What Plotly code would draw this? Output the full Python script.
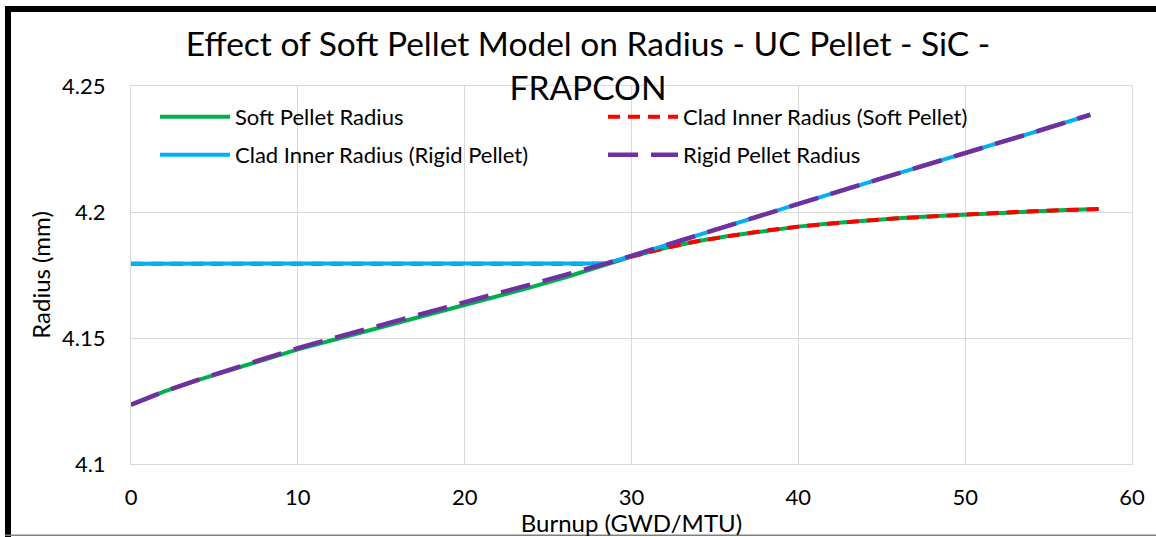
import plotly.graph_objects as go

# ---- data ----
soft_burnup = [0, 1, 2, 4, 6, 8, 10, 12, 14, 16, 18, 20, 22, 24, 26, 28, 28.5,
               30, 32, 34, 36, 38, 40, 42, 44, 46, 48, 50, 52, 54, 56, 58]
soft_pellet_radius = [4.1235, 4.1263, 4.1288, 4.1333, 4.1375, 4.1415, 4.1455, 4.1490,
                      4.1525, 4.1560, 4.1595, 4.1630, 4.1665, 4.1702, 4.1740, 4.1780, 4.1791,
                      4.1823, 4.1857, 4.1885, 4.1907, 4.1926, 4.1942, 4.1955, 4.1966,
                      4.1975, 4.1983, 4.1990, 4.1997, 4.2003, 4.2008, 4.2012]
clad_soft_burnup = [0, 5, 10, 15, 20, 25, 28.5,
                    30, 32, 34, 36, 38, 40, 42, 44, 46, 48, 50, 52, 54, 56, 58]
clad_soft_radius = [4.1795, 4.1795, 4.1795, 4.1795, 4.1795, 4.1795, 4.1795,
                    4.1823, 4.1857, 4.1885, 4.1907, 4.1926, 4.1942, 4.1955, 4.1966,
                    4.1975, 4.1983, 4.1990, 4.1997, 4.2003, 4.2008, 4.2012]

rigid_burnup = [0, 1, 2, 4, 6, 8, 10, 12, 14, 16, 18, 20, 22, 24, 26, 28, 28.5,
                30, 32, 34, 36, 38, 40, 42, 44, 46, 48, 50, 52, 54, 56, 57.5]
rigid_pellet_radius = [4.1235, 4.1263, 4.1288, 4.1334, 4.1377, 4.1418, 4.1460, 4.1497,
                       4.1534, 4.1570, 4.1606, 4.1642, 4.1678, 4.1713, 4.1748, 4.1784, 4.1796,
                       4.1826, 4.1868, 4.1909, 4.1950, 4.1991, 4.2032, 4.2073, 4.2114,
                       4.2154, 4.2194, 4.2234, 4.2274, 4.2314, 4.2354, 4.2386]
clad_rigid_burnup = [0, 5, 10, 15, 20, 25, 28.5,
                     30, 32, 34, 36, 38, 40, 42, 44, 46, 48, 50, 52, 54, 56, 57.5]
clad_rigid_radius = [4.1795, 4.1795, 4.1795, 4.1795, 4.1795, 4.1795, 4.1796,
                     4.1826, 4.1868, 4.1909, 4.1950, 4.1991, 4.2032, 4.2073, 4.2114,
                     4.2154, 4.2194, 4.2234, 4.2274, 4.2314, 4.2354, 4.2386]

x_ticks = [0, 10, 20, 30, 40, 50, 60]
y_ticks = [4.1, 4.15, 4.2, 4.25]
y_tick_text = ["4.1", "4.15", "4.2", "4.25"]

FONT = "Lato"

fig = go.Figure()
fig.add_trace(go.Scatter(x=soft_burnup, y=soft_pellet_radius, mode="lines",
                         name="Soft Pellet Radius", legend="legend",
                         line=dict(color="#00B050", width=4)))
fig.add_trace(go.Scatter(x=clad_soft_burnup, y=clad_soft_radius, mode="lines",
                         name="Clad Inner Radius (Soft Pellet)", legend="legend",
                         line=dict(color="#FF0000", width=4, dash="12px,8px")))
fig.add_trace(go.Scatter(x=clad_rigid_burnup, y=clad_rigid_radius, mode="lines",
                         name="Clad Inner Radius (Rigid Pellet)", legend="legend2",
                         line=dict(color="#00B0F0", width=4)))
fig.add_trace(go.Scatter(x=rigid_burnup, y=rigid_pellet_radius, mode="lines",
                         name="Rigid Pellet Radius", legend="legend2",
                         line=dict(color="#7030A0", width=4.5, dash="30px,13px")))

# plot area in pixels: left 131, right 1132, top 86, bottom 464
L, R, T, B = 131, 1132, 86, 464
W, H = 1156, 537


def px(xp):
    return (xp - L) / (R - L)


def py(yp):
    return (B - yp) / (B - T)


legend_common = dict(
    orientation="h", xanchor="left", yanchor="middle",
    font=dict(family=FONT, size=22, color="#000000"),
    bgcolor="rgba(0,0,0,0)", entrywidth=363, entrywidthmode="pixels",
    itemwidth=70,
)

fig.update_layout(
    width=W, height=H,
    margin=dict(l=L, r=W - R, t=T, b=H - B, pad=0, autoexpand=False),
    paper_bgcolor="white", plot_bgcolor="white",
    font=dict(family=FONT, color="#000000"),
    title=dict(text="Effect of Soft Pellet Model on Radius - UC Pellet - SiC -<br>FRAPCON",
               x=588 / W, xanchor="center", xref="container",
               y=1 - 56 / H, yanchor="top", yref="container",
               font=dict(family=FONT, size=33.5, color="#000000")),
    legend=dict(x=px(155), y=py(117), **legend_common),
    legend2=dict(x=px(155), y=py(155), **legend_common),
    xaxis=dict(range=[0, 60], tickvals=x_ticks, showgrid=True, gridcolor="#D9D9D9",
               gridwidth=1, zeroline=False, showline=True, linecolor="#D9D9D9",
               linewidth=1, mirror=True, ticks="", ticklabelstandoff=14,
               automargin=False,
               tickfont=dict(family=FONT, size=22, color="#000000"),
               title=dict(text="Burnup (GWD/MTU)", standoff=10,
                          font=dict(family=FONT, size=24, color="#000000"))),
    yaxis=dict(range=[4.1, 4.25], tickvals=y_ticks, ticktext=y_tick_text, showgrid=True,
               gridcolor="#D9D9D9", gridwidth=1, zeroline=False, showline=True,
               linecolor="#D9D9D9", linewidth=1, mirror=True, ticks="",
               ticklabelstandoff=20, automargin=False,
               tickfont=dict(family=FONT, size=22, color="#000000"),
               title=dict(text="Radius (mm)", standoff=4,
                          font=dict(family=FONT, size=24, color="#000000"))),
    shapes=[
        # chart frame (black top and left edges, grey bottom)
        dict(type="rect", xref="paper", yref="paper", x0=px(5), x1=px(1160),
             y0=py(12), y1=py(6), fillcolor="black", line=dict(width=0), layer="above"),
        dict(type="rect", xref="paper", yref="paper", x0=px(5), x1=px(11),
             y0=py(540), y1=py(6), fillcolor="black", line=dict(width=0), layer="above"),
        dict(type="rect", xref="paper", yref="paper", x0=px(5), x1=px(1160),
             y0=py(536), y1=py(534.5), fillcolor="#7F7F7F", line=dict(width=0),
             layer="above"),
    ],
)

fig.write_html("out.html", config={"displayModeBar": False},
               post_script="document.body.style.margin='0';document.body.style.overflow='hidden';")
